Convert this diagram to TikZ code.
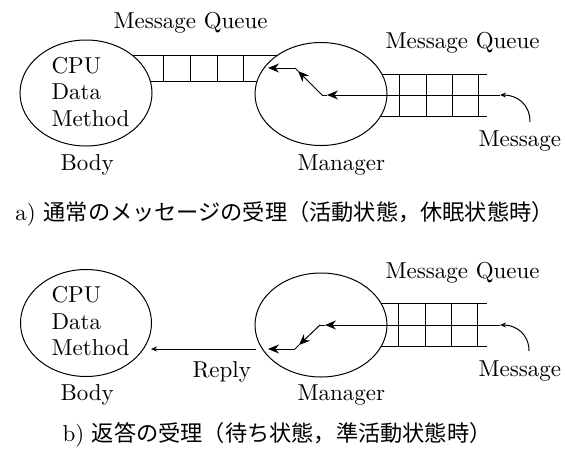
\documentclass[tikz,border=0pt]{standalone}
\usepackage{fontspec}
\setmainfont{lmroman10-regular.otf}
\newfontfamily\cjk{Noto Sans CJK JP}
\usetikzlibrary{shapes.geometric,arrows.meta}
\begin{document}
\begin{tikzpicture}[x=1pt,y=-1pt, line width=1pt,
  lbl/.style={font=\fontsize{23}{26.5}\selectfont, inner sep=0},
  captext/.style={font=\fontsize{23}{26}\selectfont, inner sep=0, anchor=base west},
  ell/.style={ellipse, draw, fill=white, inner sep=0},
  big/.style={-{Stealth[length=11pt,width=9pt]}},
  small/.style={-{Stealth[length=6pt,width=5pt]}}]
\useasboundingbox (0,0) rectangle (565,456);

% ================= a) =================
% queues (partly hidden by the ellipses)
\draw (100,55) -- (300,55);
\draw (100,81) -- (300,81);
\foreach \x in {163,190,217,243} \draw (\x,55) -- (\x,81);
\draw (340,74) -- (487,74);
\draw (340,116) -- (487,116);
\foreach \x in {399,426,452,478} \draw (\x,74) -- (\x,116);

\node[ell, minimum width=132, minimum height=106] (body1) at (86,93) {};
\node[ell, minimum width=132, minimum height=103] (mgr1) at (321,94) {};

\node[lbl, align=left, anchor=west] (txt1) at (51,92) {CPU\\Data\\Method};
\node[lbl, anchor=base west] (bodylbl1) at (60,170) {Body};
\node[lbl, anchor=base west] (mgrlbl1) at (297,170) {Manager};
\node[lbl, anchor=base west] (mqa1) at (113,28) {Message Queue};
\node[lbl, anchor=base west] (mqa2) at (385,48) {Message Queue};
\node[lbl, anchor=base west] (msga) at (478,146) {Message};

\coordinate (s1) at (530,122);
\coordinate (q1) at (500,95);
\coordinate (t1) at (327,95);
\coordinate (k1) at (322,95);
\coordinate (d1) at (298,71);
\coordinate (k2) at (295,68);
\coordinate (e1) at (268,68);
\draw[small] (s1) .. controls (530,104) and (517,95) .. (q1);
\draw[big] (q1) -- (t1);
\draw (t1) -- (k1);
\draw[big] (k1) -- (d1);
\draw (d1) -- (k2);
\draw[big] (k2) -- (e1);

\node[captext] (capa) at (15,220) {a) {\cjk\fontsize{22.2}{26}\selectfont 通常のメッセージの受理（活動状態，休眠状態時）}};

% ================= b) =================
\draw (340,303) -- (487,303);
\draw (340,346) -- (487,346);
\foreach \x in {398,425,451,477} \draw (\x,303) -- (\x,346);

\node[ell, minimum width=131, minimum height=107] (body2) at (86,323) {};
\node[ell, minimum width=132, minimum height=104] (mgr2) at (321,325) {};

\node[lbl, align=left, anchor=west] (txt2) at (51,321.5) {CPU\\Data\\Method};
\node[lbl, anchor=base west] (bodylbl2) at (60,400) {Body};
\node[lbl, anchor=base west] (mgrlbl2) at (297,400) {Manager};
\node[lbl, anchor=base west] (mqb) at (385,278) {Message Queue};
\node[lbl, anchor=base west] (msgb) at (478,376) {Message};
\node[lbl, anchor=base west] (reply) at (192,377) {Reply};

\coordinate (s2) at (529,351);
\coordinate (q2) at (500,325);
\coordinate (t2) at (325,325);
\coordinate (k3) at (320,325);
\coordinate (d2) at (299,345);
\coordinate (k4) at (295,349);
\coordinate (e2) at (268,349);
\draw[small] (s2) .. controls (529,334) and (516,325) .. (q2);
\draw[big] (q2) -- (t2);
\draw (t2) -- (k3);
\draw[big] (k3) -- (d2);
\draw (d2) -- (k4);
\draw[big] (k4) -- (e2);

\coordinate (r1) at (256,349);
\coordinate (r2) at (151,349);
\draw[small] (r1) -- (r2);

\node[captext] (capb) at (62,441) {b) {\cjk\fontsize{22.2}{26}\selectfont 返答の受理（待ち状態，準活動状態時）}};
\end{tikzpicture}
\end{document}
